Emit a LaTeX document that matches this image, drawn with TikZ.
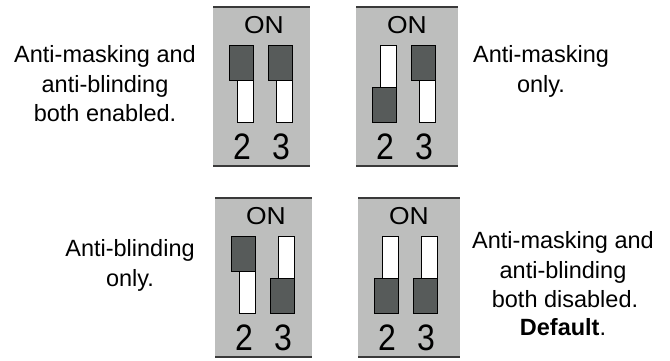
\documentclass[tikz,border=0pt]{standalone}
\usepackage{fontspec}
\setmainfont{Liberation Sans}
\definecolor{panelgray}{HTML}{BDBEBD}
\definecolor{knobgray}{HTML}{575B5A}
\definecolor{edgegray}{HTML}{3A3A3A}
\tikzset{
  knob/.style={fill=knobgray,draw=black,line width=1pt},
  slot/.style={fill=white,draw=black,line width=1pt},
  edgeline/.style={draw=edgegray,line width=2pt},
  lbl/.style={inner sep=0pt,anchor=base,font=\fontsize{23.5}{29}\selectfont},
  onlbl/.style={inner sep=0pt,anchor=base,font=\fontsize{24.5}{24}\selectfont},
  diglbl/.style={inner sep=0pt,anchor=base,font=\fontsize{32}{32}\selectfont},
  pics/dippanel/.style n args={3}{code={
    \fill[panelgray] (0,0) rectangle (#3,161);
    \draw[edgeline,line width=1.5pt] (0,0.75) -- (#3,0.75);
    \draw[edgeline] (0,160) -- (#3,160);
    \draw[slot] (24,39) rectangle (40,116);
    \draw[knob] (16,#1) rectangle (40,{#1+35});
    \draw[slot] (63,39) rectangle (79,116);
    \draw[knob] (55,#2) rectangle (79,{#2+35});
    \node[onlbl] (-on) at (51,27) {\scalebox{1.08}[1]{ON}};
    \node[diglbl] (-two) at (29,153) {\scalebox{1}[1.15]{2}};
    \node[diglbl] (-three) at (68,153) {\scalebox{1}[1.15]{3}};
  }}
}
\begin{document}
\begin{tikzpicture}[x=1pt,y=-1pt]
\useasboundingbox (0,0) rectangle (670,360);
\fill[white] (0,0) rectangle (670,360);
% panels
\pic (p1) at (213,6) {dippanel={39}{39}{97}};
\pic (p2) at (356,6) {dippanel={81}{39}{102}};
\pic (p3) at (215,197) {dippanel={39}{81}{97}};
\pic (p4) at (358,197) {dippanel={81}{81}{102}};
% texts
\node[lbl] (t1a) at (105,62) {Anti-masking and};
\node[lbl] (t1b) at (105,92) {anti-blinding};
\node[lbl] (t1c) at (105,121) {both enabled.};
\node[lbl] (t2a) at (541,62) {Anti-masking};
\node[lbl] (t2b) at (541,92) {only.};
\node[lbl] (t3a) at (130,256) {Anti-blinding};
\node[lbl] (t3b) at (130,286) {only.};
\node[lbl] (t4a) at (563,248) {Anti-masking and};
\node[lbl] (t4b) at (563,278) {anti-blinding};
\node[lbl] (t4c) at (565,307) {both disabled.};
\node[lbl] (t4d) at (563,335) {\textbf{Default}.};
\end{tikzpicture}
\end{document}
